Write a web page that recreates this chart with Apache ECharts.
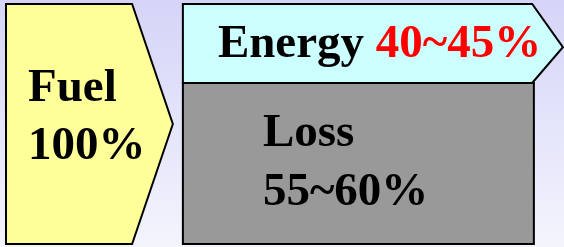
<!DOCTYPE html>
<html>
<head>
<meta charset="utf-8">
<style>
  html, body { margin: 0; padding: 0; }
  #chart { width: 564px; height: 247px; }
</style>
<script src="https://cdn.jsdelivr.net/npm/echarts@6/dist/echarts.min.js"></script>
</head>
<body>
<div id="chart"></div>
<script>
// energy balance blocks
var blockNames = ['Fuel', 'Energy', 'Loss'];
var blockShares = ['100%', '40~45%', '55~60%'];

var chart = echarts.init(document.getElementById('chart'));

// outline of every block, in axis units (0..100 both ways)
var boxes = [
    { x0: 0, x1: 22.6, tip: 29.9, tipY: 50, y0: 0, y1: 100 },
    { x0: 31.7, x1: 94.3, tip: 99.8, tipY: 82, y0: 67.1, y1: 100 },
    { x0: 31.7, x1: 94.6, tip: null, y0: 0, y1: 67.1 }
];
var fills = ['#ffff99', '#ccffff', '#999999'];
var font = { fontSize: 47, fontWeight: 'bold', fontFamily: '"Liberation Serif", "Times New Roman", serif' };

function label(text, x, y, extra) {
    return {
        type: 'text',
        style: Object.assign({ text: text, x: x, y: y, fill: '#000', verticalAlign: 'middle' }, font, extra || {})
    };
}

function renderItem(params, api) {
    var i = params.dataIndex, b = boxes[i];
    var p = function(x, y) { return api.coord([x, y]); };
    var pts = b.tip != null
        ? [p(b.x0, b.y1), p(b.x1, b.y1), p(b.tip, b.tipY), p(b.x1, b.y0), p(b.x0, b.y0)]
        : [p(b.x0, b.y1), p(b.x1, b.y1), p(b.x1, b.y0), p(b.x0, b.y0)];
    var tl = pts[0];
    var kids = [{
        type: 'polygon',
        shape: { points: pts },
        style: { fill: fills[i], stroke: '#000', lineWidth: 2, lineJoin: 'miter' }
    }];
    if (i === 0) {
        kids.push(label(blockNames[i], tl[0] + 22, tl[1] + 85));
        kids.push(label(blockShares[i], tl[0] + 22, tl[1] + 143));
    } else if (i === 1) {
        kids.push(label('{a|' + blockNames[i] + '} {b|' + blockShares[i] + '}', tl[0] + 35, tl[1] + 41, {
            rich: {
                a: Object.assign({ fill: '#000' }, font),
                b: Object.assign({ fill: '#ff0000' }, font)
            }
        }));
    } else {
        kids.push(label(blockNames[i], tl[0] + 80, tl[1] + 51));
        kids.push(label(blockShares[i], tl[0] + 80, tl[1] + 110));
    }
    return { type: 'group', children: kids };
}

chart.setOption({
    animation: false,
    backgroundColor: new echarts.graphic.LinearGradient(0, 0, 0, 1, [
        { offset: 0, color: '#d4d4f8' },
        { offset: 1, color: '#f4f4fd' }
    ]),
    grid: { left: 6, right: 0, top: 4, bottom: 3 },
    xAxis: { type: 'value', min: 0, max: 100, show: false },
    yAxis: { type: 'value', min: 0, max: 100, show: false },
    series: [{
        type: 'custom',
        silent: true,
        clip: false,
        renderItem: renderItem,
        data: blockNames.map(function(n, i) { return { name: n, value: [i] }; })
    }]
});
</script>
</body>
</html>
